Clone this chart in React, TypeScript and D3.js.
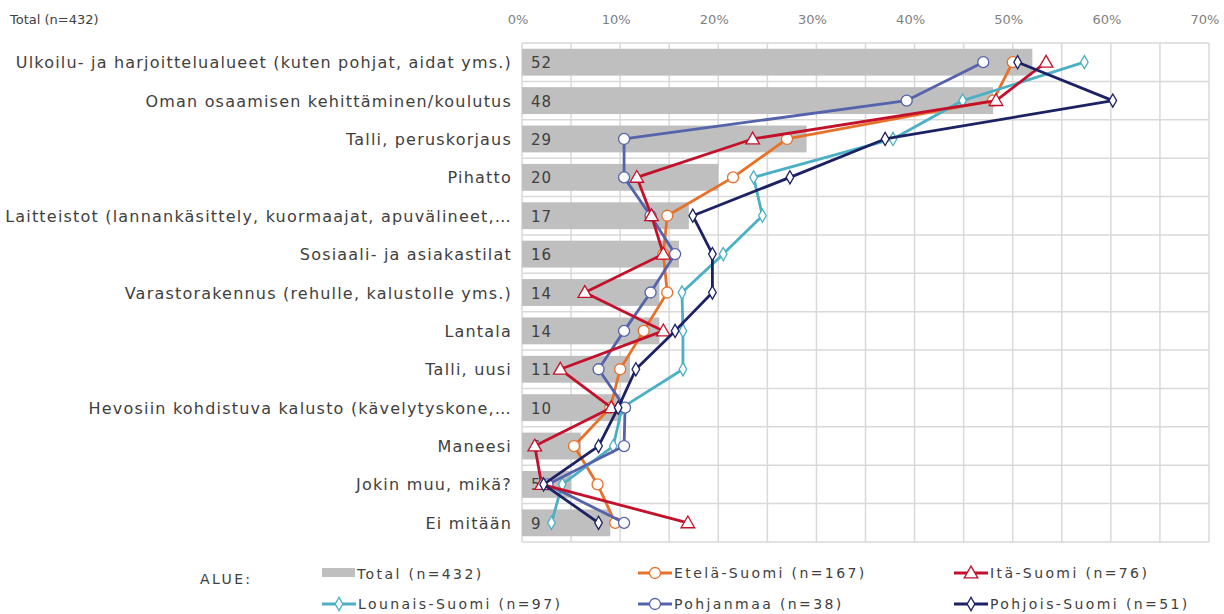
import * as d3 from 'd3'

const categories = [
  'Ulkoilu- ja harjoittelualueet (kuten pohjat, aidat yms.)',
  'Oman osaamisen kehittäminen/koulutus',
  'Talli, peruskorjaus',
  'Pihatto',
  'Laitteistot (lannankäsittely, kuormaajat, apuvälineet,…',
  'Sosiaali- ja asiakastilat',
  'Varastorakennus (rehulle, kalustolle yms.)',
  'Lantala',
  'Talli, uusi',
  'Hevosiin kohdistuva kalusto (kävelytyskone,…',
  'Maneesi',
  'Jokin muu, mikä?',
  'Ei mitään',
]

const total = [52, 48, 29, 20, 17, 16, 14, 14, 11, 10, 6, 5, 9]
const etela = [50, 48, 27, 21.5, 14.8, 14.4, 14.8, 12.4, 10, 9, 5.3, 7.7, 9.5]
const ita = [53.4, 48.3, 23.5, 11.7, 13.2, 14.4, 6.4, 14.4, 3.9, 9.1, 1.3, 2, 16.9]
const lounais = [57.3, 44.9, 37.8, 23.6, 24.5, 20.5, 16.3, 16.4, 16.4, 10.2, 9.3, 4.1, 3.0]
const pohjanmaa = [47, 39.2, 10.4, 10.4, 13.1, 15.6, 13.1, 10.4, 7.8, 10.5, 10.4, 2.6, 10.4]
const pohjois = [50.5, 60.2, 37, 27.3, 17.4, 19.4, 19.4, 15.6, 11.6, 9.8, 7.8, 2.2, 7.8]

const xTicks = [0, 10, 20, 30, 40, 50, 60, 70]

const series = [
  { name: 'Etelä-Suomi (n=167)', values: etela, color: '#e8712a', shape: 'circle' },
  { name: 'Itä-Suomi (n=76)', values: ita, color: '#c3102b', shape: 'triangle' },
  { name: 'Lounais-Suomi (n=97)', values: lounais, color: '#4bb0c4', shape: 'diamond' },
  { name: 'Pohjanmaa (n=38)', values: pohjanmaa, color: '#5463ab', shape: 'circle' },
  { name: 'Pohjois-Suomi (n=51)', values: pohjois, color: '#1c2163', shape: 'diamond' },
]

// draw order in the chart (last on top)
const drawOrder = [0, 2, 3, 1, 4]

const font = '"DejaVu Sans", Verdana, sans-serif'

const Marker = ({ shape, x, y, color }: { shape: string; x: number; y: number; color: string }) => {
  if (shape === 'circle') {
    return <circle cx={x} cy={y} r={5.5} fill="#fff" stroke={color} strokeWidth={1.3} />
  }
  if (shape === 'triangle') {
    const p = d3.symbol(d3.symbolTriangle, 80)()
    return <path d={p || ''} transform={`translate(${x},${y + 1})`} fill="#fff" stroke={color} strokeWidth={1.3} />
  }
  const p = d3.symbol(d3.symbolDiamond, 50)()
  return <path d={p || ''} transform={`translate(${x},${y})`} fill="#fff" stroke={color} strokeWidth={1.3} />
}

export default function App() {
  const width = 1224
  const height = 614
  const left = 522
  const top = 43
  const plotW = 687
  const plotH = 499

  const x = d3.scaleLinear().domain([0, 70]).range([left, left + plotW])
  const y = d3.scaleBand<number>().domain(d3.range(categories.length)).range([top, top + plotH])
  const bar = d3.scaleBand<number>().domain(d3.range(categories.length)).range([top, top + plotH]).paddingInner(0.3).paddingOuter(0.15)
  const yc = (i: number) => (y(i) as number) + y.bandwidth() / 2

  const line = d3.line<number>().x(d => x(d)).y((_, i) => yc(i))

  const minor = d3.range(0, 71, 5)

  return (
    <div style={{ position: 'absolute', left: 0, top: 0 }}>
      <svg width={width} height={height} style={{ display: 'block', background: '#fff' }}>
        <text x={10} y={24} fontFamily={font} fontSize={13} fill="#404040">Total (n=432)</text>
        {xTicks.map(t => (
          <text key={t} x={x(t) - 4} y={24} textAnchor="middle" fontFamily={font} fontSize={13} fill="#7f7f7f">{t}%</text>
        ))}
        {minor.map(t => (
          <line key={t} x1={x(t)} x2={x(t)} y1={top} y2={top + plotH} stroke="#d9d9d9" strokeWidth={1.5} />
        ))}
        {d3.range(categories.length + 1).map(i => (
          <line key={i} x1={left} x2={left + plotW} y1={top + i * y.step()} y2={top + i * y.step()} stroke="#d9d9d9" strokeWidth={1.5} />
        ))}
        {total.map((v, i) => (
          <rect key={i} x={x(0)} y={bar(i)} width={x(v) - x(0)} height={bar.bandwidth()} fill="#bfbfbf" />
        ))}
        {total.map((v, i) => (
          <text key={i} x={x(0) + 9} y={yc(i) + 6} fontFamily={font} fontSize={15} letterSpacing={1} fill="#404040">{v}</text>
        ))}
        {categories.map((c, i) => (
          <text key={i} x={512} y={yc(i) + 6} textAnchor="end" fontFamily={font} fontSize={16} letterSpacing={1.2} fill="#404040">{c}</text>
        ))}
        {drawOrder.map(si => {
          const s = series[si]
          return (
            <g key={si}>
              <path d={line(s.values) || ''} fill="none" stroke={s.color} strokeWidth={2.8} strokeLinejoin="round" />
              {s.values.map((v, i) => (
                <Marker key={i} shape={s.shape} x={x(v)} y={yc(i)} color={s.color} />
              ))}
            </g>
          )
        })}
        <g fontFamily={font} fontSize={14} letterSpacing={2.4} fill="#404040">
          <text x={200} y={584}>ALUE:</text>
          <rect x={322} y={568} width={33} height={9} fill="#bfbfbf" />
          <text x={357} y={579}>Total (n=432)</text>
          {series.map((s, k) => {
            const order = [1, 2, 3, 4, 5][k]
            const col = order % 3
            const row = Math.floor(order / 3)
            const lx = [322, 638, 954][col]
            const ly = row === 0 ? 573 : 604
            return (
              <g key={k}>
                <line x1={lx} x2={lx + 34} y1={ly} y2={ly} stroke={s.color} strokeWidth={3} />
                <Marker shape={s.shape} x={lx + 17} y={ly} color={s.color} />
                <text x={lx + 36} y={ly + 5}>{s.name}</text>
              </g>
            )
          })}
        </g>
      </svg>
    </div>
  )
}
